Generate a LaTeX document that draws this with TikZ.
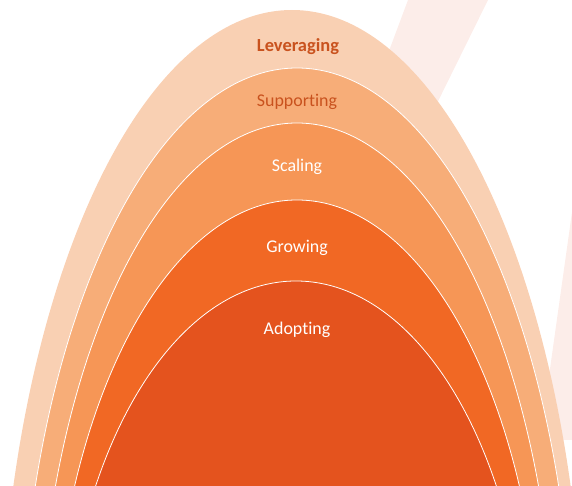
\documentclass[tikz,border=0pt]{standalone}
\usepackage{fontspec}
\setmainfont{Carlito}[Ligatures=NoCommon]
\definecolor{levfill}{RGB}{249,208,179}
\definecolor{supfill}{RGB}{247,173,120}
\definecolor{scafill}{RGB}{246,150,86}
\definecolor{grofill}{RGB}{241,104,36}
\definecolor{adofill}{RGB}{228,83,30}
\definecolor{darktext}{RGB}{201,82,30}
\definecolor{watermark}{RGB}{252,237,233}

\begin{document}
\begin{tikzpicture}[x=0.02cm, y=-0.02cm,
    arch/.style={draw=white, line width=0.45pt},
    darklabel/.style={text=darktext, font=\fontsize{10.2}{12}\selectfont},
    lightlabel/.style={text=white, font=\fontsize{10.2}{12}\selectfont}]
    \useasboundingbox (0,0) rectangle (572,486);
    \clip (0,0) rectangle (572,486);
    % faint strokes behind the arches
    \fill[watermark] (408,0) -- (488,0) -- (414,150) -- (352,150) -- cycle;
    \fill[watermark] (574,198) -- (600,198) -- (600,440) -- (540,440) -- cycle;
    % arches, outer to inner, all centred low below the picture
    \fill[levfill] (292,700) ellipse [x radius=293, y radius=690];
    \filldraw[arch, fill=supfill] (297,700) ellipse [x radius=278, y radius=632];
    \filldraw[arch, fill=scafill] (297,700) ellipse [x radius=260, y radius=577];
    \filldraw[arch, fill=grofill] (297,700) ellipse [x radius=246, y radius=500];
    \filldraw[arch, fill=adofill] (296,700) ellipse [x radius=233, y radius=419];
    % labels
    \node[darklabel, font=\fontsize{10.5}{12}\selectfont\bfseries] (lev) at (298,47) {Leveraging};
    \node[darklabel] (sup) at (297,102) {Supporting};
    \node[lightlabel] (sca) at (297,167) {Scaling};
    \node[lightlabel] (gro) at (297,248) {Growing};
    \node[lightlabel] (ado) at (297,330) {Adopting};
\end{tikzpicture}
\end{document}
